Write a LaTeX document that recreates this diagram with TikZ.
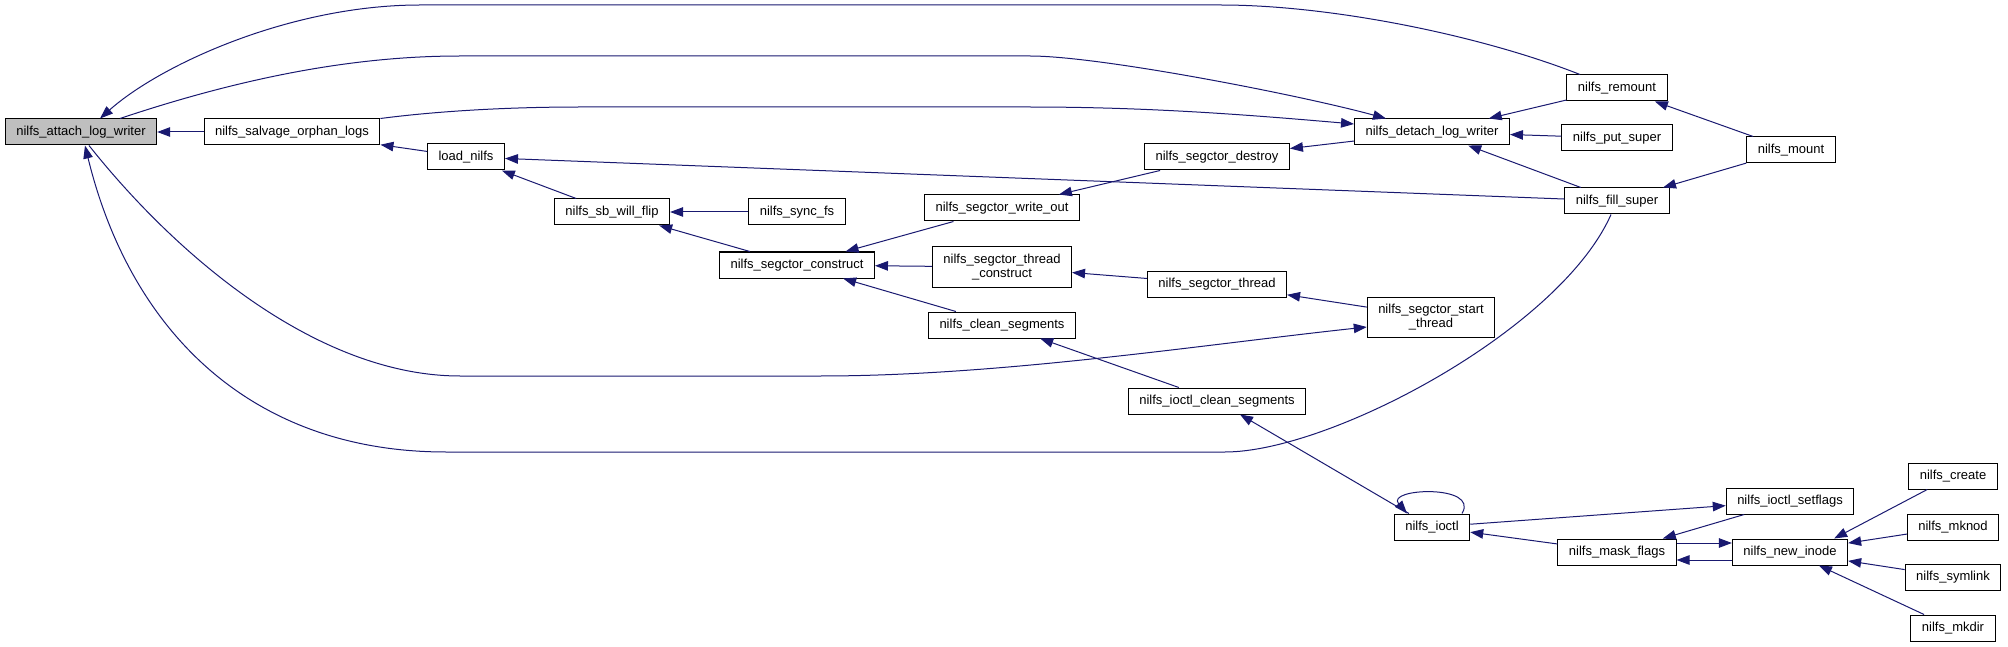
\documentclass[tikz,border=0pt]{standalone}
\usepackage{fontspec}
\setmainfont{Liberation Sans}
\usetikzlibrary{arrows.meta}
\definecolor{edgeblue}{HTML}{191970}
\newcommand{\fnfont}{\fontsize{13}{14}\selectfont}

\begin{document}
\begin{tikzpicture}[x=1pt, y=-1pt, >={Triangle[length=13pt,width=9.5pt]},
  fn/.style={draw=black, fill=white, line width=1pt, font=\fnfont, inner xsep=11pt,
    minimum height=26pt, text height=9.5pt, text depth=2.7pt},
  fntwo/.style={draw=black, fill=white, line width=1pt, font=\fnfont, inner xsep=11pt,
    minimum height=40pt, align=center},
  call/.style={draw=edgeblue, line width=1pt}]
  \useasboundingbox (0,0) rectangle (2008,647);

  % Functions
  \node[fn, fill=black!25] (attach) at (81,132) {nilfs\_attach\_log\_writer};
  \node[fn] (salvage) at (292,132) {nilfs\_salvage\_orphan\_logs};
  \node[fn] (load) at (466,157) {load\_nilfs};
  \node[fn] (sbflip) at (612,212) {nilfs\_sb\_will\_flip};
  \node[fn] (syncfs) at (797,212) {nilfs\_sync\_fs};
  \node[fn] (construct) at (797,265) {nilfs\_segctor\_construct};
  \node[fn] (writeout) at (1002,208) {nilfs\_segctor\_write\_out};
  \node[fntwo] (thrconstruct) at (1002,267) {nilfs\_segctor\_thread\\\_construct};
  \node[fn] (clean) at (1002,325) {nilfs\_clean\_segments};
  \node[fn] (destroy) at (1217,157) {nilfs\_segctor\_destroy};
  \node[fn] (segthread) at (1217,284) {nilfs\_segctor\_thread};
  \node[fn] (ioctlclean) at (1217,401) {nilfs\_ioctl\_clean\_segments};
  \node[fn] (detach) at (1432,132) {nilfs\_detach\_log\_writer};
  \node[fntwo] (startthread) at (1431,317) {nilfs\_segctor\_start\\\_thread};
  \node[fn] (ioctl) at (1432,527) {nilfs\_ioctl};
  \node[fn] (remount) at (1617,88) {nilfs\_remount};
  \node[fn] (putsuper) at (1617,138) {nilfs\_put\_super};
  \node[fn] (fillsuper) at (1617,201) {nilfs\_fill\_super};
  \node[fn] (mask) at (1617,552) {nilfs\_mask\_flags};
  \node[fn] (mount) at (1791,150) {nilfs\_mount};
  \node[fn] (setflags) at (1790,501) {nilfs\_ioctl\_setflags};
  \node[fn] (newinode) at (1790,552) {nilfs\_new\_inode};
  \node[fn] (create) at (1953,476) {nilfs\_create};
  \node[fn] (mknod) at (1953,527) {nilfs\_mknod};
  \node[fn] (symlink) at (1953,577) {nilfs\_symlink};
  \node[fn] (mkdir) at (1953,628) {nilfs\_mkdir};

  % Calls (head at the callee)
  \draw[call,<-] (attach) -- (salvage);
  \draw[call,<-] (salvage) -- (load);
  \draw[call,<-] (load) -- (fillsuper);
  \draw[call,<-] (load) -- (sbflip);
  \draw[call,<-] (sbflip) -- (syncfs);
  \draw[call,<-] (sbflip) -- (construct);
  \draw[call,<-] (construct) -- (writeout);
  \draw[call,<-] (construct) -- (thrconstruct);
  \draw[call,<-] (construct) -- (clean);
  \draw[call,<-] (writeout) -- (destroy);
  \draw[call,<-] (destroy) -- (detach);
  \draw[call,<-] (thrconstruct) -- (segthread);
  \draw[call,<-] (segthread) -- (startthread);
  \draw[call,<-] (clean) -- (ioctlclean);
  \draw[call,<-] (ioctlclean) -- (ioctl);
  \draw[call,<-] (detach) -- (remount);
  \draw[call,<-] (detach) -- (putsuper);
  \draw[call,<-] (detach) -- (fillsuper);
  \draw[call,<-] (remount) -- (mount);
  \draw[call,<-] (fillsuper) -- (mount);
  \draw[call,<-] (setflags) -- (ioctl);
  \draw[call,<-] (ioctl) -- (mask);
  \draw[call,<-] (mask) -- (setflags);
  \draw[call,<-] ([yshift=9pt]newinode.west) -- ([yshift=9pt]mask.east);
  \draw[call,<-] ([yshift=-8pt]mask.east) -- ([yshift=-8pt]newinode.west);
  \draw[call,<-] ([xshift=-14pt]newinode.north east) -- ([xshift=19pt]create.south west);
  \draw[call,<-] (newinode) -- (mknod);
  \draw[call,<-] (newinode) -- (symlink);
  \draw[call,<-] (newinode) -- (mkdir);

  % Self call
  \draw[call,<-] ([xshift=-25pt]ioctl.north) .. controls (1385,488) and (1480,484) .. ([xshift=30pt]ioctl.north);

  % Long calls over the top
  \draw[call,<-] ([xshift=19pt]attach.north) .. controls (160,65) and (290,5) .. (420,5)
    -- (1221,5) .. controls (1330,5) and (1480,35) .. ([xshift=-37pt]remount.north);
  \draw[call,->] ([xshift=39pt]attach.north) .. controls (250,75) and (360,56) .. (460,56)
    -- (1030,56) .. controls (1100,56) and (1300,95) .. ([xshift=-46pt]detach.north);
  \draw[call,->] (salvage.north east) .. controls (430,112) and (500,107) .. (580,107)
    -- (1029,107) .. controls (1150,107) and (1250,115) .. ([yshift=8pt]detach.west);

  % Long calls underneath
  \draw[call,->] ([xshift=8pt]attach.south) .. controls (180,260) and (320,376) .. (460,376)
    -- (820,376) .. controls (1000,376) and (1200,345) .. ([yshift=-10pt]startthread.west);
  \draw[call,<-] ([xshift=4pt]attach.south) .. controls (130,330) and (250,452) .. (446,452)
    -- (1225,452) .. controls (1330,452) and (1560,330) .. ([xshift=-6pt]fillsuper.south);
\end{tikzpicture}
\end{document}
